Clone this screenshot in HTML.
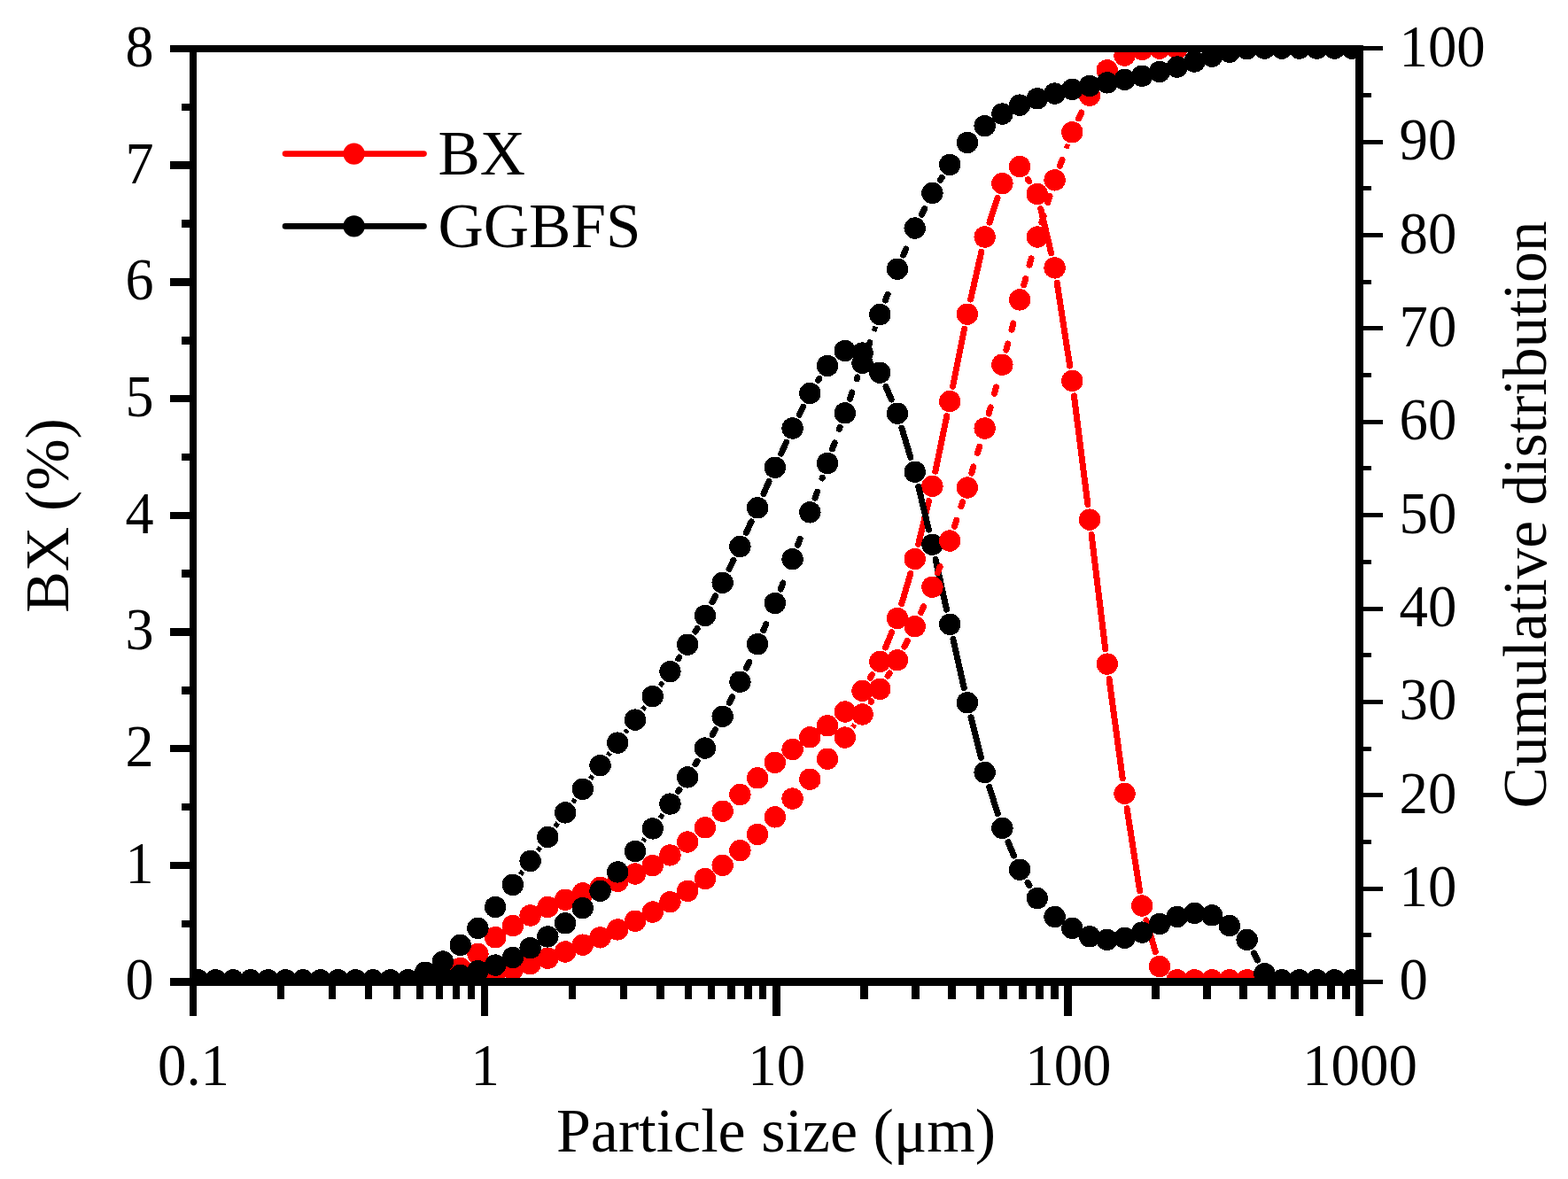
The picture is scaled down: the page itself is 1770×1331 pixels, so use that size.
<!DOCTYPE html>
<html lang="en"><head><meta charset="utf-8"><title>Particle size distribution</title>
<style>html,body{margin:0;padding:0;background:#fff}body{width:1770px;height:1331px;overflow:hidden}svg{display:block}text{font-family:"Liberation Serif","Times New Roman",serif;font-size:70px;fill:#000}text.t{font-size:67.5px}</style></head><body>
<svg width="1770" height="1331" viewBox="0 0 1770 1331">
<rect width="1770" height="1331" fill="#fff"/>
<defs><clipPath id="plot"><rect x="218" y="55.1" width="1316.5" height="1053.3"/></clipPath></defs>
<g clip-path="url(#plot)" shape-rendering="crispEdges">
<path d="M982.31 765.14L984.45 761.56 M999.65 731.04L1006.58 713.86 M1017.81 681.6L1027.88 647.4 M1036.7 614.37L1048.45 565.43 M1055.9 532.05L1068.72 469.85 M1075.54 436.33L1088.55 371.47 M1095.68 338.02L1107.87 284.18 M1116.95 251.25L1126.06 223.35 M1160.31 202.51L1161.63 204.59 M1174.77 235.64L1186.63 285.76 M1193.18 319.3L1207.68 413 M1212.44 446.87L1227.9 569.63 M1232.09 603.58L1247.71 732.62 M1252.05 766.55L1267.21 878.95 M1272.13 912.8L1286.59 1005.6 M1293.95 1038.93L1304.23 1074.67" fill="none" stroke="#ff0000" stroke-width="7" stroke-linecap="round"/>
<g fill="#ff0000"><circle cx="223.7" cy="1106.3" r="12.2"/><circle cx="243.43" cy="1106.3" r="12.2"/><circle cx="263.16" cy="1106.3" r="12.2"/><circle cx="282.9" cy="1106.3" r="12.2"/><circle cx="302.63" cy="1106.3" r="12.2"/><circle cx="322.36" cy="1106.3" r="12.2"/><circle cx="342.09" cy="1106.3" r="12.2"/><circle cx="361.82" cy="1106.3" r="12.2"/><circle cx="381.56" cy="1106.3" r="12.2"/><circle cx="401.29" cy="1106.3" r="12.2"/><circle cx="421.02" cy="1106.3" r="12.2"/><circle cx="440.75" cy="1106.3" r="12.2"/><circle cx="460.48" cy="1106.3" r="12.2"/><circle cx="480.22" cy="1106.3" r="12.2"/><circle cx="499.95" cy="1105.5" r="12.2"/><circle cx="519.68" cy="1093" r="12.2"/><circle cx="539.41" cy="1076.8" r="12.2"/><circle cx="559.14" cy="1058.2" r="12.2"/><circle cx="578.88" cy="1045.1" r="12.2"/><circle cx="598.61" cy="1033.5" r="12.2"/><circle cx="618.34" cy="1024" r="12.2"/><circle cx="638.07" cy="1015.8" r="12.2"/><circle cx="657.8" cy="1008.4" r="12.2"/><circle cx="677.54" cy="1002" r="12.2"/><circle cx="697.27" cy="994.8" r="12.2"/><circle cx="717" cy="986.5" r="12.2"/><circle cx="736.73" cy="977.1" r="12.2"/><circle cx="756.46" cy="965.4" r="12.2"/><circle cx="776.2" cy="950.5" r="12.2"/><circle cx="795.93" cy="934.3" r="12.2"/><circle cx="815.66" cy="915.7" r="12.2"/><circle cx="835.39" cy="897" r="12.2"/><circle cx="855.12" cy="878.3" r="12.2"/><circle cx="874.86" cy="860.9" r="12.2"/><circle cx="894.59" cy="846" r="12.2"/><circle cx="914.32" cy="832.3" r="12.2"/><circle cx="934.05" cy="819.2" r="12.2"/><circle cx="953.78" cy="803.5" r="12.2"/><circle cx="973.52" cy="779.8" r="12.2"/><circle cx="993.25" cy="746.9" r="12.2"/><circle cx="1012.98" cy="698" r="12.2"/><circle cx="1032.71" cy="631" r="12.2"/><circle cx="1052.44" cy="548.8" r="12.2"/><circle cx="1072.18" cy="453.1" r="12.2"/><circle cx="1091.91" cy="354.7" r="12.2"/><circle cx="1111.64" cy="267.5" r="12.2"/><circle cx="1131.37" cy="207.1" r="12.2"/><circle cx="1151.1" cy="188.1" r="12.2"/><circle cx="1170.84" cy="219" r="12.2"/><circle cx="1190.57" cy="302.4" r="12.2"/><circle cx="1210.3" cy="429.9" r="12.2"/><circle cx="1230.03" cy="586.6" r="12.2"/><circle cx="1249.76" cy="749.6" r="12.2"/><circle cx="1269.5" cy="895.9" r="12.2"/><circle cx="1289.23" cy="1022.5" r="12.2"/><circle cx="1308.96" cy="1091.1" r="12.2"/><circle cx="1328.69" cy="1106.3" r="12.2"/><circle cx="1348.42" cy="1106.3" r="12.2"/><circle cx="1368.16" cy="1106.3" r="12.2"/><circle cx="1387.89" cy="1106.3" r="12.2"/><circle cx="1407.62" cy="1106.3" r="12.2"/><circle cx="1427.35" cy="1106.3" r="12.2"/><circle cx="1447.08" cy="1106.3" r="12.2"/><circle cx="1466.82" cy="1106.3" r="12.2"/><circle cx="1486.55" cy="1106.3" r="12.2"/><circle cx="1506.28" cy="1106.3" r="12.2"/><circle cx="1526.01" cy="1106.3" r="12.2"/></g>
<path d="M765.75 743.84L766.91 742.06 M785.03 713.06L787.09 709.64 M803.94 679.89L807.65 672.91 M823.11 642.41L827.95 632.39 M842.42 601.41L848.1 588.79 M861.94 557.52L868.04 543.48 M881.81 512.18L887.63 499.12 M902.23 468.2L906.68 459.3 M923.48 429.56L924.89 427.34 M999.99 436.42L1006.24 450.98 M1017.88 483.08L1027.81 516.32 M1036.71 549.33L1048.44 598.07 M1056.1 631.4L1068.52 688.2 M1075.91 721.59L1088.18 776.51 M1096.06 809.79L1107.49 855.41 M1116.76 888.32L1126.25 918.58 M1138 950.66L1144.47 966.04 M1160.02 996.39L1161.92 999.51 M1415.45 1076.1L1419.52 1084" fill="none" stroke="#000000" stroke-width="7" stroke-linecap="round"/><path d="M587.33 987.37L590.15 983.53 M607.05 960.45L609.9 956.55 M626.66 933.37L629.76 929.03 M646.59 905.91L649.28 902.29 M666.32 879.31L669.02 875.69 M686.27 852.87L688.54 849.93 M705.91 827.21L708.36 823.99 M725.54 801.13L728.19 797.57 M744.99 774.42L748.21 769.88" fill="none" stroke="#000000" stroke-width="5.5"/>
<g fill="#000000"><circle cx="223.7" cy="1106.3" r="12.2"/><circle cx="243.43" cy="1106.3" r="12.2"/><circle cx="263.16" cy="1106.3" r="12.2"/><circle cx="282.9" cy="1106.3" r="12.2"/><circle cx="302.63" cy="1106.3" r="12.2"/><circle cx="322.36" cy="1106.3" r="12.2"/><circle cx="342.09" cy="1106.3" r="12.2"/><circle cx="361.82" cy="1106.3" r="12.2"/><circle cx="381.56" cy="1106.3" r="12.2"/><circle cx="401.29" cy="1106.3" r="12.2"/><circle cx="421.02" cy="1106.3" r="12.2"/><circle cx="440.75" cy="1106.3" r="12.2"/><circle cx="460.48" cy="1106.3" r="12.2"/><circle cx="480.22" cy="1097.7" r="12.2"/><circle cx="499.95" cy="1085.5" r="12.2"/><circle cx="519.68" cy="1066.9" r="12.2"/><circle cx="539.41" cy="1047.9" r="12.2"/><circle cx="559.14" cy="1024" r="12.2"/><circle cx="578.88" cy="998.9" r="12.2"/><circle cx="598.61" cy="972" r="12.2"/><circle cx="618.34" cy="945" r="12.2"/><circle cx="638.07" cy="917.4" r="12.2"/><circle cx="657.8" cy="890.8" r="12.2"/><circle cx="677.54" cy="864.2" r="12.2"/><circle cx="697.27" cy="838.6" r="12.2"/><circle cx="717" cy="812.6" r="12.2"/><circle cx="736.73" cy="786.1" r="12.2"/><circle cx="756.46" cy="758.2" r="12.2"/><circle cx="776.2" cy="727.7" r="12.2"/><circle cx="795.93" cy="695" r="12.2"/><circle cx="815.66" cy="657.8" r="12.2"/><circle cx="835.39" cy="617" r="12.2"/><circle cx="855.12" cy="573.2" r="12.2"/><circle cx="874.86" cy="527.8" r="12.2"/><circle cx="894.59" cy="483.5" r="12.2"/><circle cx="914.32" cy="444" r="12.2"/><circle cx="934.05" cy="412.9" r="12.2"/><circle cx="953.78" cy="396" r="12.2"/><circle cx="973.52" cy="398.6" r="12.2"/><circle cx="993.25" cy="420.7" r="12.2"/><circle cx="1012.98" cy="466.7" r="12.2"/><circle cx="1032.71" cy="532.7" r="12.2"/><circle cx="1052.44" cy="614.7" r="12.2"/><circle cx="1072.18" cy="704.9" r="12.2"/><circle cx="1091.91" cy="793.2" r="12.2"/><circle cx="1111.64" cy="872" r="12.2"/><circle cx="1131.37" cy="934.9" r="12.2"/><circle cx="1151.1" cy="981.8" r="12.2"/><circle cx="1170.84" cy="1014.1" r="12.2"/><circle cx="1190.57" cy="1035" r="12.2"/><circle cx="1210.3" cy="1047.9" r="12.2"/><circle cx="1230.03" cy="1057.2" r="12.2"/><circle cx="1249.76" cy="1060.9" r="12.2"/><circle cx="1269.5" cy="1058.8" r="12.2"/><circle cx="1289.23" cy="1052.6" r="12.2"/><circle cx="1308.96" cy="1043" r="12.2"/><circle cx="1328.69" cy="1035" r="12.2"/><circle cx="1348.42" cy="1030.9" r="12.2"/><circle cx="1368.16" cy="1033.3" r="12.2"/><circle cx="1387.89" cy="1045.1" r="12.2"/><circle cx="1407.62" cy="1060.9" r="12.2"/><circle cx="1427.35" cy="1099.2" r="12.2"/><circle cx="1447.08" cy="1106.3" r="12.2"/><circle cx="1466.82" cy="1106.3" r="12.2"/><circle cx="1486.55" cy="1106.3" r="12.2"/><circle cx="1506.28" cy="1106.3" r="12.2"/><circle cx="1526.01" cy="1106.3" r="12.2"/></g>
<path d="M983.2 792.41L983.56 791.89 M1002.1 763.17L1004.13 759.82 M1020.87 730.02L1024.33 723.36 M1039.64 691.6L1042.68 684.74 M1058.49 646.71L1061.15 639.7 M1077.52 594.3L1079.86 587.17 M1084.92 571.78L1086.57 566.76 M1096.74 534.11L1098.86 526.92 M1103.44 511.38L1105.56 504.19 M1116.17 467.04L1118.16 459.81 M1122.45 444.19L1124.44 436.95 M1135.82 395.2L1137.76 387.96 M1141.97 372.32L1143.92 365.07 M1155.69 321.91L1157.7 314.69 M1162.05 299.08L1164.06 291.86 M1175.86 251.18L1178.06 244.01 M1182.82 228.52L1185.03 221.35 M1196.44 187.26L1199.01 180.21 M1217.64 133.86L1220.86 127.08" fill="none" stroke="#ff0000" stroke-width="7" stroke-linecap="round"/><path d="M962.41 821.17L964.89 817.91 M1203.61 167.63L1205.39 162.73 M1238.17 96.04L1241.62 91.07" fill="none" stroke="#ff0000" stroke-width="5.5"/>
<g fill="#ff0000"><circle cx="223.7" cy="1106.3" r="12.2"/><circle cx="243.43" cy="1106.3" r="12.2"/><circle cx="263.16" cy="1106.3" r="12.2"/><circle cx="282.9" cy="1106.3" r="12.2"/><circle cx="302.63" cy="1106.3" r="12.2"/><circle cx="322.36" cy="1106.3" r="12.2"/><circle cx="342.09" cy="1106.3" r="12.2"/><circle cx="361.82" cy="1106.3" r="12.2"/><circle cx="381.56" cy="1106.3" r="12.2"/><circle cx="401.29" cy="1106.3" r="12.2"/><circle cx="421.02" cy="1106.3" r="12.2"/><circle cx="440.75" cy="1106.3" r="12.2"/><circle cx="460.48" cy="1106.3" r="12.2"/><circle cx="480.22" cy="1106.3" r="12.2"/><circle cx="499.95" cy="1106.24" r="12.2"/><circle cx="519.68" cy="1105.17" r="12.2"/><circle cx="539.41" cy="1102.82" r="12.2"/><circle cx="559.14" cy="1098.98" r="12.2"/><circle cx="578.88" cy="1094.09" r="12.2"/><circle cx="598.61" cy="1088.27" r="12.2"/><circle cx="618.34" cy="1081.7" r="12.2"/><circle cx="638.07" cy="1074.47" r="12.2"/><circle cx="657.8" cy="1066.66" r="12.2"/><circle cx="677.54" cy="1058.33" r="12.2"/><circle cx="697.27" cy="1049.42" r="12.2"/><circle cx="717" cy="1039.85" r="12.2"/><circle cx="736.73" cy="1029.54" r="12.2"/><circle cx="756.46" cy="1018.28" r="12.2"/><circle cx="776.2" cy="1005.84" r="12.2"/><circle cx="795.93" cy="992.1" r="12.2"/><circle cx="815.66" cy="976.88" r="12.2"/><circle cx="835.39" cy="960.17" r="12.2"/><circle cx="855.12" cy="941.96" r="12.2"/><circle cx="874.86" cy="922.36" r="12.2"/><circle cx="894.59" cy="901.57" r="12.2"/><circle cx="914.32" cy="879.69" r="12.2"/><circle cx="934.05" cy="856.76" r="12.2"/><circle cx="953.78" cy="832.58" r="12.2"/><circle cx="973.52" cy="806.5" r="12.2"/><circle cx="993.25" cy="777.8" r="12.2"/><circle cx="1012.98" cy="745.19" r="12.2"/><circle cx="1032.71" cy="707.23" r="12.2"/><circle cx="1052.44" cy="662.71" r="12.2"/><circle cx="1072.18" cy="610.54" r="12.2"/><circle cx="1091.91" cy="550.52" r="12.2"/><circle cx="1111.64" cy="483.53" r="12.2"/><circle cx="1131.37" cy="411.72" r="12.2"/><circle cx="1151.1" cy="338.39" r="12.2"/><circle cx="1170.84" cy="267.52" r="12.2"/><circle cx="1190.57" cy="203.32" r="12.2"/><circle cx="1210.3" cy="149.3" r="12.2"/><circle cx="1230.03" cy="107.8" r="12.2"/><circle cx="1249.76" cy="79.31" r="12.2"/><circle cx="1269.5" cy="62.51" r="12.2"/><circle cx="1289.23" cy="55.81" r="12.2"/><circle cx="1308.96" cy="54.6" r="12.2"/><circle cx="1328.69" cy="54.6" r="12.2"/></g>
<path d="M765.81 893.3L766.85 891.72 M785 862.74L787.12 859.22 M804.18 829.59L807.41 823.73 M823.37 793.49L826.75 786.8 M842.58 754.18L845.74 747.38 M861.84 711.41L864.79 704.52 M881.16 665.06L883.93 658.09 M900.57 615.21L903.19 608.19 M920.06 562.26L922.58 555.19 M928.02 539.93L928.31 539.11 M939.67 506.86L942.14 499.77 M947.46 484.47L948.16 482.45 M959.42 450.16L961.9 443.08 M967.24 427.78L967.88 425.95 M979.32 393.72L981.86 386.66 M999.38 339.11L1002.07 332.11 M1019.7 287.99L1022.64 281.09 M1040.35 242.22L1043.7 235.51 M1061.41 203.41L1063.21 200.49" fill="none" stroke="#000000" stroke-width="7" stroke-linecap="round"/><path d="M725.74 949.65L727.99 946.73 M745.01 923.75L748.19 919.28 M986.4 374.06L988.4 368.52" fill="none" stroke="#000000" stroke-width="5.5"/>
<g fill="#000000"><circle cx="223.7" cy="1106.3" r="12.2"/><circle cx="243.43" cy="1106.3" r="12.2"/><circle cx="263.16" cy="1106.3" r="12.2"/><circle cx="282.9" cy="1106.3" r="12.2"/><circle cx="302.63" cy="1106.3" r="12.2"/><circle cx="322.36" cy="1106.3" r="12.2"/><circle cx="342.09" cy="1106.3" r="12.2"/><circle cx="361.82" cy="1106.3" r="12.2"/><circle cx="381.56" cy="1106.3" r="12.2"/><circle cx="401.29" cy="1106.3" r="12.2"/><circle cx="421.02" cy="1106.3" r="12.2"/><circle cx="440.75" cy="1106.3" r="12.2"/><circle cx="460.48" cy="1106.3" r="12.2"/><circle cx="480.22" cy="1105.61" r="12.2"/><circle cx="499.95" cy="1103.95" r="12.2"/><circle cx="519.68" cy="1100.81" r="12.2"/><circle cx="539.41" cy="1096.15" r="12.2"/><circle cx="559.14" cy="1089.58" r="12.2"/><circle cx="578.88" cy="1081" r="12.2"/><circle cx="598.61" cy="1070.28" r="12.2"/><circle cx="618.34" cy="1057.4" r="12.2"/><circle cx="638.07" cy="1042.32" r="12.2"/><circle cx="657.8" cy="1025.12" r="12.2"/><circle cx="677.54" cy="1005.79" r="12.2"/><circle cx="697.27" cy="984.42" r="12.2"/><circle cx="717" cy="960.97" r="12.2"/><circle cx="736.73" cy="935.41" r="12.2"/><circle cx="756.46" cy="907.62" r="12.2"/><circle cx="776.2" cy="877.4" r="12.2"/><circle cx="795.93" cy="844.56" r="12.2"/><circle cx="815.66" cy="808.76" r="12.2"/><circle cx="835.39" cy="769.7" r="12.2"/><circle cx="855.12" cy="727.14" r="12.2"/><circle cx="874.86" cy="680.95" r="12.2"/><circle cx="894.59" cy="631.24" r="12.2"/><circle cx="914.32" cy="578.36" r="12.2"/><circle cx="934.05" cy="523.01" r="12.2"/><circle cx="953.78" cy="466.3" r="12.2"/><circle cx="973.52" cy="409.8" r="12.2"/><circle cx="993.25" cy="355.07" r="12.2"/><circle cx="1012.98" cy="303.71" r="12.2"/><circle cx="1032.71" cy="257.52" r="12.2"/><circle cx="1052.44" cy="217.97" r="12.2"/><circle cx="1072.18" cy="185.93" r="12.2"/><circle cx="1091.91" cy="160.93" r="12.2"/><circle cx="1111.64" cy="142.23" r="12.2"/><circle cx="1131.37" cy="128.55" r="12.2"/><circle cx="1151.1" cy="118.61" r="12.2"/><circle cx="1170.84" cy="111.25" r="12.2"/><circle cx="1190.57" cy="105.55" r="12.2"/><circle cx="1210.3" cy="100.89" r="12.2"/><circle cx="1230.03" cy="96.97" r="12.2"/><circle cx="1249.76" cy="93.35" r="12.2"/><circle cx="1269.5" cy="89.81" r="12.2"/><circle cx="1289.23" cy="85.77" r="12.2"/><circle cx="1308.96" cy="80.97" r="12.2"/><circle cx="1328.69" cy="75.52" r="12.2"/><circle cx="1348.42" cy="69.5" r="12.2"/><circle cx="1368.16" cy="63.68" r="12.2"/><circle cx="1387.89" cy="58.79" r="12.2"/><circle cx="1407.62" cy="55.17" r="12.2"/><circle cx="1427.35" cy="54.6" r="12.2"/><circle cx="1447.08" cy="54.6" r="12.2"/><circle cx="1466.82" cy="54.6" r="12.2"/><circle cx="1486.55" cy="54.6" r="12.2"/><circle cx="1506.28" cy="54.6" r="12.2"/><circle cx="1526.01" cy="54.6" r="12.2"/></g>
</g>
<g fill="#000" shape-rendering="crispEdges"><rect x="214" y="51" width="8" height="1062"/><rect x="1530" y="51" width="9" height="1062"/><rect x="192" y="51" width="1347" height="8"/><rect x="192" y="1104" width="1347" height="9"/><rect x="205" y="1039" width="11" height="8"/><rect x="192" y="973" width="24" height="8"/><rect x="205" y="907" width="11" height="8"/><rect x="192" y="841" width="24" height="8"/><rect x="205" y="775" width="11" height="9"/><rect x="192" y="709" width="24" height="9"/><rect x="205" y="643" width="11" height="9"/><rect x="192" y="578" width="24" height="8"/><rect x="205" y="512" width="11" height="8"/><rect x="192" y="446" width="24" height="8"/><rect x="205" y="380" width="11" height="9"/><rect x="192" y="314" width="24" height="9"/><rect x="205" y="248" width="11" height="9"/><rect x="192" y="182" width="24" height="9"/><rect x="205" y="117" width="11" height="8"/><rect x="1535" y="1106.1" width="26" height="5"/><rect x="1535" y="1053.4" width="13" height="5"/><rect x="1535" y="1000.7" width="26" height="5"/><rect x="1535" y="948" width="13" height="5"/><rect x="1535" y="895.3" width="26" height="5"/><rect x="1535" y="842.6" width="13" height="5"/><rect x="1535" y="789.9" width="26" height="5"/><rect x="1535" y="737.2" width="13" height="5"/><rect x="1535" y="684.5" width="26" height="5"/><rect x="1535" y="631.8" width="13" height="5"/><rect x="1535" y="579.1" width="26" height="5"/><rect x="1535" y="526.4" width="13" height="5"/><rect x="1535" y="473.7" width="26" height="5"/><rect x="1535" y="421" width="13" height="5"/><rect x="1535" y="368.3" width="26" height="5"/><rect x="1535" y="315.6" width="13" height="5"/><rect x="1535" y="262.9" width="26" height="5"/><rect x="1535" y="210.2" width="13" height="5"/><rect x="1535" y="157.5" width="26" height="5"/><rect x="1535" y="104.8" width="13" height="5"/><rect x="1535" y="52.1" width="26" height="5"/><rect x="214" y="1104" width="8" height="43"/><rect x="313" y="1104" width="8" height="24"/><rect x="371" y="1104" width="8" height="24"/><rect x="412" y="1104" width="8" height="24"/><rect x="444" y="1104" width="8" height="24"/><rect x="470" y="1104" width="8" height="24"/><rect x="492" y="1104" width="8" height="24"/><rect x="511" y="1104" width="8" height="24"/><rect x="528" y="1104" width="8" height="24"/><rect x="543" y="1104" width="8" height="43"/><rect x="642" y="1104" width="8" height="24"/><rect x="700" y="1104" width="8" height="24"/><rect x="741" y="1104" width="9" height="24"/><rect x="773" y="1104" width="8" height="24"/><rect x="799" y="1104" width="8" height="24"/><rect x="821" y="1104" width="9" height="24"/><rect x="840" y="1104" width="9" height="24"/><rect x="857" y="1104" width="8" height="24"/><rect x="872" y="1104" width="9" height="43"/><rect x="971" y="1104" width="9" height="24"/><rect x="1029" y="1104" width="9" height="24"/><rect x="1070" y="1104" width="9" height="24"/><rect x="1102" y="1104" width="9" height="24"/><rect x="1128" y="1104" width="9" height="24"/><rect x="1150" y="1104" width="9" height="24"/><rect x="1169" y="1104" width="9" height="24"/><rect x="1186" y="1104" width="9" height="24"/><rect x="1201" y="1104" width="9" height="43"/><rect x="1300" y="1104" width="9" height="24"/><rect x="1358" y="1104" width="9" height="24"/><rect x="1399" y="1104" width="9" height="24"/><rect x="1431" y="1104" width="9" height="24"/><rect x="1457" y="1104" width="9" height="24"/><rect x="1479" y="1104" width="9" height="24"/><rect x="1498" y="1104" width="9" height="24"/><rect x="1515" y="1104" width="9" height="24"/><rect x="1530" y="1104" width="9" height="43"/></g>
<text class="t" transform="translate(173.5 1128.2) scale(0.95 1)" text-anchor="end">0</text><text class="t" transform="translate(173.5 996.54) scale(0.95 1)" text-anchor="end">1</text><text class="t" transform="translate(173.5 864.88) scale(0.95 1)" text-anchor="end">2</text><text class="t" transform="translate(173.5 733.21) scale(0.95 1)" text-anchor="end">3</text><text class="t" transform="translate(173.5 601.55) scale(0.95 1)" text-anchor="end">4</text><text class="t" transform="translate(173.5 469.89) scale(0.95 1)" text-anchor="end">5</text><text class="t" transform="translate(173.5 338.22) scale(0.95 1)" text-anchor="end">6</text><text class="t" transform="translate(173.5 206.56) scale(0.95 1)" text-anchor="end">7</text><text class="t" transform="translate(173.5 74.9) scale(0.95 1)" text-anchor="end">8</text><text class="t" transform="translate(1579.5 1128.2) scale(0.96 1)">0</text><text class="t" transform="translate(1579.5 1022.87) scale(0.96 1)">10</text><text class="t" transform="translate(1579.5 917.54) scale(0.96 1)">20</text><text class="t" transform="translate(1579.5 812.21) scale(0.96 1)">30</text><text class="t" transform="translate(1579.5 706.88) scale(0.96 1)">40</text><text class="t" transform="translate(1579.5 601.55) scale(0.96 1)">50</text><text class="t" transform="translate(1579.5 496.22) scale(0.96 1)">60</text><text class="t" transform="translate(1579.5 390.89) scale(0.96 1)">70</text><text class="t" transform="translate(1579.5 285.56) scale(0.96 1)">80</text><text class="t" transform="translate(1579.5 180.23) scale(0.96 1)">90</text><text class="t" transform="translate(1579.5 74.9) scale(0.96 1)">100</text><text class="t" transform="translate(218.5 1224.8) scale(0.96 1)" text-anchor="middle">0.1</text><text class="t" transform="translate(547.62 1224.8) scale(0.96 1)" text-anchor="middle">1</text><text class="t" transform="translate(876.75 1224.8) scale(0.96 1)" text-anchor="middle">10</text><text class="t" transform="translate(1205.88 1224.8) scale(0.96 1)" text-anchor="middle">100</text><text class="t" transform="translate(1535 1224.8) scale(0.96 1)" text-anchor="middle">1000</text><text x="876" y="1300" text-anchor="middle">Particle size (μm)</text><text transform="translate(77 582) rotate(-90)" text-anchor="middle">BX (%)</text><text transform="translate(1745 581) rotate(-90)" text-anchor="middle" style="font-size:69.6px">Cumulative distribution</text><path d="M322 173.6H478.5" stroke="#ff0000" stroke-width="6.6" stroke-linecap="round" fill="none"/><circle cx="399.6" cy="173.6" r="12.2" fill="#ff0000"/><path d="M322 255.4H478.5" stroke="#000000" stroke-width="6.6" stroke-linecap="round" fill="none"/><circle cx="399.6" cy="255.4" r="12.2" fill="#000000"/><text x="494.5" y="197" style="font-size:71px">BX</text><text x="494.5" y="279" style="font-size:71px">GGBFS</text>
</svg></body></html>
